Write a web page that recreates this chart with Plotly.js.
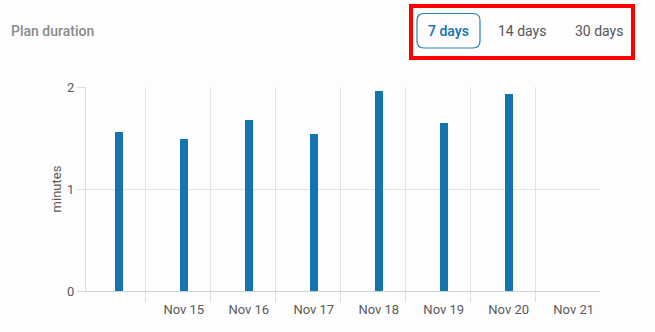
<!DOCTYPE html>
<html>
<head>
<meta charset="utf-8">
<script src="https://cdn.plot.ly/plotly-3.0.1.min.js"></script>
<style>
html,body{margin:0;padding:0;background:#fdfdfd;}
#chart{width:655px;height:332px;}
</style>
</head>
<body>
<div id="chart"></div>
<script>
// ---- data ----
const categories = ['Nov 14','Nov 15','Nov 16','Nov 17','Nov 18','Nov 19','Nov 20','Nov 21'];
const minutesValues = [1.556, 1.49, 1.673, 1.536, 1.961, 1.644, 1.931, null];
const tickLabels = ['', 'Nov 15','Nov 16','Nov 17','Nov 18','Nov 19','Nov 20','Nov 21'];
const yTicks = [0, 1, 2];
const title = 'Plan duration';
const rangeButtons = ['7 days', '14 days', '30 days'];

// ---- layout helpers (pixel -> paper) ----
const W = 655, H = 332;
const M = {l: 86, r: 55, t: 87, b: 41};
const PW = W - M.l - M.r, PH = H - M.t - M.b;
const px = x => (x - M.l) / PW;
const py = y => (H - M.b - y) / PH;

function roundRect(x0, y0, x1, y1, r) {
  const X = v => px(v).toFixed(5), Y = v => py(v).toFixed(5);
  return 'M' + X(x0 + r) + ',' + Y(y0) +
    ' L' + X(x1 - r) + ',' + Y(y0) +
    ' Q' + X(x1) + ',' + Y(y0) + ' ' + X(x1) + ',' + Y(y0 + r) +
    ' L' + X(x1) + ',' + Y(y1 - r) +
    ' Q' + X(x1) + ',' + Y(y1) + ' ' + X(x1 - r) + ',' + Y(y1) +
    ' L' + X(x0 + r) + ',' + Y(y1) +
    ' Q' + X(x0) + ',' + Y(y1) + ' ' + X(x0) + ',' + Y(y1 - r) +
    ' L' + X(x0) + ',' + Y(y0 + r) +
    ' Q' + X(x0) + ',' + Y(y0) + ' ' + X(x0 + r) + ',' + Y(y0) + ' Z';
}

const xIdx = categories.map((_, i) => i);

const trace = {
  type: 'bar',
  x: xIdx,
  y: minutesValues,
  width: 0.125,
  marker: {color: '#1474b0', line: {width: 0}},
  hoverinfo: 'skip'
};

const btnX = [448, 522, 599];

const layout = {
  width: W, height: H,
  margin: M,
  paper_bgcolor: '#fdfdfd',
  plot_bgcolor: '#fdfdfd',
  font: {family: 'Roboto, Arial, sans-serif', color: '#555'},
  showlegend: false,
  bargap: 0,
  xaxis: {
    type: 'linear',
    range: [-0.505, 7.405],
    tickmode: 'array',
    tickvals: xIdx,
    ticktext: tickLabels,
    ticks: '',
    ticklabelstandoff: 6,
    showgrid: false,
    zeroline: false,
    showline: true,
    linecolor: '#d0d0d0',
    linewidth: 1,
    tickfont: {size: 13, color: '#5a5a5a'},
    minor: {
      tick0: 0.415,
      dtick: 1,
      ticks: 'outside',
      ticklen: 10,
      tickcolor: '#dddddd',
      showgrid: true,
      gridcolor: '#e3e3e3',
      gridwidth: 1
    },
    fixedrange: true
  },
  yaxis: {
    range: [0, 2],
    tickmode: 'array',
    tickvals: yTicks,
    ticks: 'outside',
    ticklen: 8,
    tickcolor: '#dddddd',
    showgrid: true,
    gridcolor: '#e3e3e3',
    zeroline: false,
    showline: true,
    linecolor: '#dddddd',
    tickfont: {size: 13, color: '#5a5a5a'},
    title: {text: 'minutes', font: {size: 13, color: '#5a5a5a'}, standoff: 2},
    fixedrange: true
  },
  annotations: [
    {text: title, xref: 'paper', yref: 'paper', x: px(9), y: py(31),
     xanchor: 'left', yanchor: 'middle', showarrow: false,
     font: {size: 14, color: '#8a8a8a', weight: 500}},
    {text: rangeButtons[0], xref: 'paper', yref: 'paper', x: px(btnX[0]), y: py(31),
     xanchor: 'center', yanchor: 'middle', showarrow: false,
     font: {size: 14, color: '#1f78b4', weight: 600}},
    {text: rangeButtons[1], xref: 'paper', yref: 'paper', x: px(btnX[1]), y: py(31),
     xanchor: 'center', yanchor: 'middle', showarrow: false,
     font: {size: 14, color: '#555'}},
    {text: rangeButtons[2], xref: 'paper', yref: 'paper', x: px(btnX[2]), y: py(31),
     xanchor: 'center', yanchor: 'middle', showarrow: false,
     font: {size: 14, color: '#555'}}
  ],
  shapes: [
    {type: 'path', xref: 'paper', yref: 'paper',
     path: roundRect(417, 13.5, 480, 48, 7),
     line: {color: '#2a7fb8', width: 1.2}, fillcolor: 'rgba(0,0,0,0)'},
    {type: 'rect', xref: 'paper', yref: 'paper',
     x0: px(411), x1: px(633), y0: py(6), y1: py(58),
     line: {color: '#ff0000', width: 4}, fillcolor: 'rgba(0,0,0,0)'}
  ]
};

Plotly.newPlot('chart', [trace], layout, {displayModeBar: false, staticPlot: true});
</script>
</body>
</html>
